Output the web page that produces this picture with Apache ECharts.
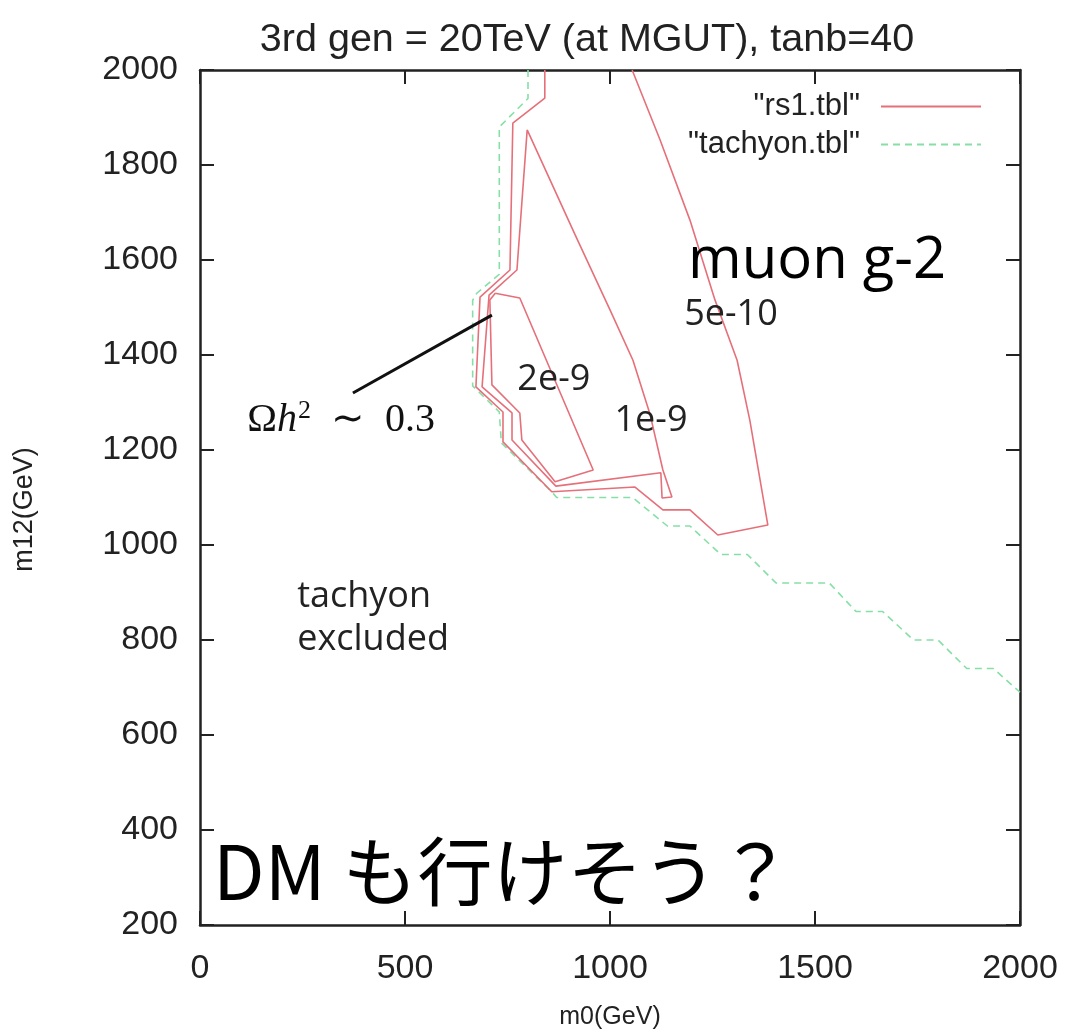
<!DOCTYPE html>
<html><head><meta charset="utf-8">
<script src="https://cdn.jsdelivr.net/npm/echarts@6/dist/echarts.min.js"></script>
<style>html,body{margin:0;padding:0;background:#fff}#c{width:1069px;height:1031px}</style>
</head><body><div id="c"></div>
<script>
// ---- axis ticks ----
const xTicks = [0, 500, 1000, 1500, 2000];
const yTicks = [200, 400, 600, 800, 1000, 1200, 1400, 1600, 1800, 2000];

// ---- tachyon boundary (green dashed) ----
const tachyonM0  = [800, 800, 730, 730, 675, 665, 665, 730, 735, 860, 870, 1055, 1140, 1195, 1270, 1335, 1405, 1535, 1600, 1665, 1740, 1800, 1870, 1935, 2000];
const tachyonM12 = [2000, 1940, 1880, 1570, 1530, 1515, 1335, 1280, 1215, 1110, 1100, 1100, 1040, 1040, 980, 980, 920, 920, 860, 860, 800, 800, 740, 740, 690];

// ---- rs1 contours (red) ----
const c5e10M0  = [841, 841, 763, 756, 683, 673, 739, 739, 858, 1061, 1129, 1195, 1263, 1385, 1366, 1341, 1310, 1256, 1195, 1122, 1054];
const c5e10M12 = [2000, 1941, 1888, 1579, 1522, 1333, 1280, 1217, 1112, 1122, 1074, 1074, 1021, 1042, 1137, 1263, 1389, 1516, 1684, 1853, 2000];

const c1e9M0  = [798, 915, 1000, 1056, 1098, 1129, 1151, 1127, 1124, 868, 761, 761, 688, 705, 773, 798];
const c1e9M12 = [1874, 1653, 1495, 1389, 1274, 1158, 1101, 1099, 1152, 1124, 1221, 1278, 1333, 1526, 1579, 1874];

const c2e9M0  = [720, 780, 959, 866, 785, 780, 712, 707, 720];
const c2e9M12 = [1530, 1520, 1158, 1133, 1221, 1278, 1337, 1516, 1530];

// ---- leader line for Omega h^2 annotation ----
const leaderM0  = [373, 712];
const leaderM12 = [1320, 1484];

const zip = (a, b) => a.map((v, i) => [v, b[i]]);

const RED = '#e6707a';
const GREEN = '#86e0a6';
const AX = '#222';

const chart = echarts.init(document.getElementById('c'), null, {renderer: 'canvas'});

const redLine = {color: RED, width: 1.6};
function redSeries(m0, m12) {
  return {name: '"rs1.tbl"', type: 'line', data: zip(m0, m12), showSymbol: false, symbol: 'none',
          lineStyle: redLine, itemStyle: {color: RED}, silent: true, z: 3};
}

function axisCommon(extra) {
  return Object.assign({
    type: 'value',
    splitLine: {show: false},
    axisLine: {show: true, onZero: false, lineStyle: {color: AX, width: 2.5}},
    axisTick: {show: true, inside: true, length: 14, lineStyle: {color: AX, width: 2}},
  }, extra);
}

const labelFont = {fontFamily: 'Liberation Sans', fontSize: 34, color: '#222', formatter: v => String(v)};

function ann(extra) {
  return Object.assign({show: true, opacity: 1, textBorderWidth: 0, color: '#000'}, extra);
}

const option = {
  backgroundColor: '#fff',
  animation: false,
  title: {
    text: '3rd gen = 20TeV (at MGUT), tanb=40',
    left: 582, top: 15, textAlign: 'center',
    textStyle: {fontFamily: 'Liberation Sans', fontSize: 39.5, fontWeight: 'normal', color: '#222'}
  },
  grid: {left: 200, right: 49, top: 70, bottom: 106, containLabel: false, outerBoundsMode: 'none'},
  xAxis: [
    axisCommon({position: 'bottom', min: xTicks[0], max: xTicks[xTicks.length - 1], interval: xTicks[1] - xTicks[0],
      axisLabel: Object.assign({margin: 27}, labelFont),
      name: 'm0(GeV)', nameLocation: 'middle', nameGap: 80,
      nameTextStyle: {fontFamily: 'Liberation Sans', fontSize: 25, color: '#222'}}),
    axisCommon({position: 'top', min: xTicks[0], max: xTicks[xTicks.length - 1], interval: xTicks[1] - xTicks[0],
      axisLabel: {show: false}})
  ],
  yAxis: [
    axisCommon({position: 'left', min: yTicks[0], max: yTicks[yTicks.length - 1], interval: yTicks[1] - yTicks[0],
      axisLabel: Object.assign({margin: 22}, labelFont),
      name: 'm12(GeV)', nameLocation: 'middle', nameGap: 162, nameRotate: 90,
      nameTextStyle: {fontFamily: 'Liberation Sans', fontSize: 27, color: '#222', padding: [0, 24, 0, 0]}}),
    axisCommon({position: 'right', min: yTicks[0], max: yTicks[yTicks.length - 1], interval: yTicks[1] - yTicks[0],
      axisLabel: {show: false}})
  ],
  legend: [
    {data: ['"rs1.tbl"'], orient: 'vertical', right: 82, top: 86, align: 'right',
     itemWidth: 100, itemHeight: 14, selectedMode: false, itemStyle: {opacity: 0},
     textStyle: {fontFamily: 'Liberation Sans', fontSize: 31, color: '#222', padding: [0, 16, 0, 0]}},
    {data: ['"tachyon.tbl"'], orient: 'vertical', right: 82, top: 124, align: 'right',
     itemWidth: 100, itemHeight: 14, selectedMode: false, itemStyle: {opacity: 0},
     textStyle: {fontFamily: 'Liberation Sans', fontSize: 31, color: '#222', padding: [0, 16, 0, 0]}}
  ],
  series: [
    redSeries(c5e10M0, c5e10M12),
    redSeries(c1e9M0, c1e9M12),
    redSeries(c2e9M0, c2e9M12),
    {name: '"tachyon.tbl"', type: 'line', data: zip(tachyonM0, tachyonM12), showSymbol: false, symbol: 'none',
     lineStyle: {color: GREEN, width: 1.6, type: [7, 5]}, itemStyle: {color: GREEN}, silent: true, z: 2},
    {name: 'leader', type: 'line', data: zip(leaderM0, leaderM12), showSymbol: false, symbol: 'none',
     lineStyle: {color: '#111', width: 3}, silent: true, z: 4},
    {name: 'annotations', type: 'scatter', symbolSize: 0, itemStyle: {color: 'rgba(0,0,0,0)'}, silent: true, z: 5,
     data: [
       {value: [1505, 1596], label: ann({position: 'inside', formatter: 'muon g-2',
         fontFamily: 'Open Sans', fontSize: 58, color: '#000'})},
       {value: [1295, 1484], label: ann({position: 'inside', formatter: '5e-10',
         fontFamily: 'Open Sans', fontSize: 36, color: '#222'})},
       {value: [863, 1347], label: ann({position: 'inside', formatter: '2e-9',
         fontFamily: 'Open Sans', fontSize: 36, color: '#222'})},
       {value: [1100, 1262], label: ann({position: 'inside', formatter: '1e-9',
         fontFamily: 'Open Sans', fontSize: 36, color: '#222'})},
       {value: [344, 1262], label: ann({position: 'inside',
         formatter: '{r|Ω}{i|h}{s|2}{r|  ∼  0.3}',
         rich: {r: {fontFamily: 'Liberation Serif', fontSize: 40, color: '#111'},
                i: {fontFamily: 'Liberation Serif', fontStyle: 'italic', fontSize: 40, color: '#111'},
                s: {fontFamily: 'Liberation Serif', fontSize: 26, color: '#111', padding: [0, 0, 18, 1]}}})},
       {value: [237, 845], label: ann({position: 'right', distance: 0, align: 'left',
         formatter: 'tachyon\nexcluded', lineHeight: 43,
         fontFamily: 'Open Sans', fontSize: 36, color: '#222'})},
       {value: [32, 312], label: ann({position: 'right', distance: 0,
         formatter: 'DM も行けそう？',
         fontFamily: 'Noto Sans CJK JP', fontSize: 75, color: '#000'})}
     ]}
  ]
};
chart.setOption(option);
</script>
</body></html>
